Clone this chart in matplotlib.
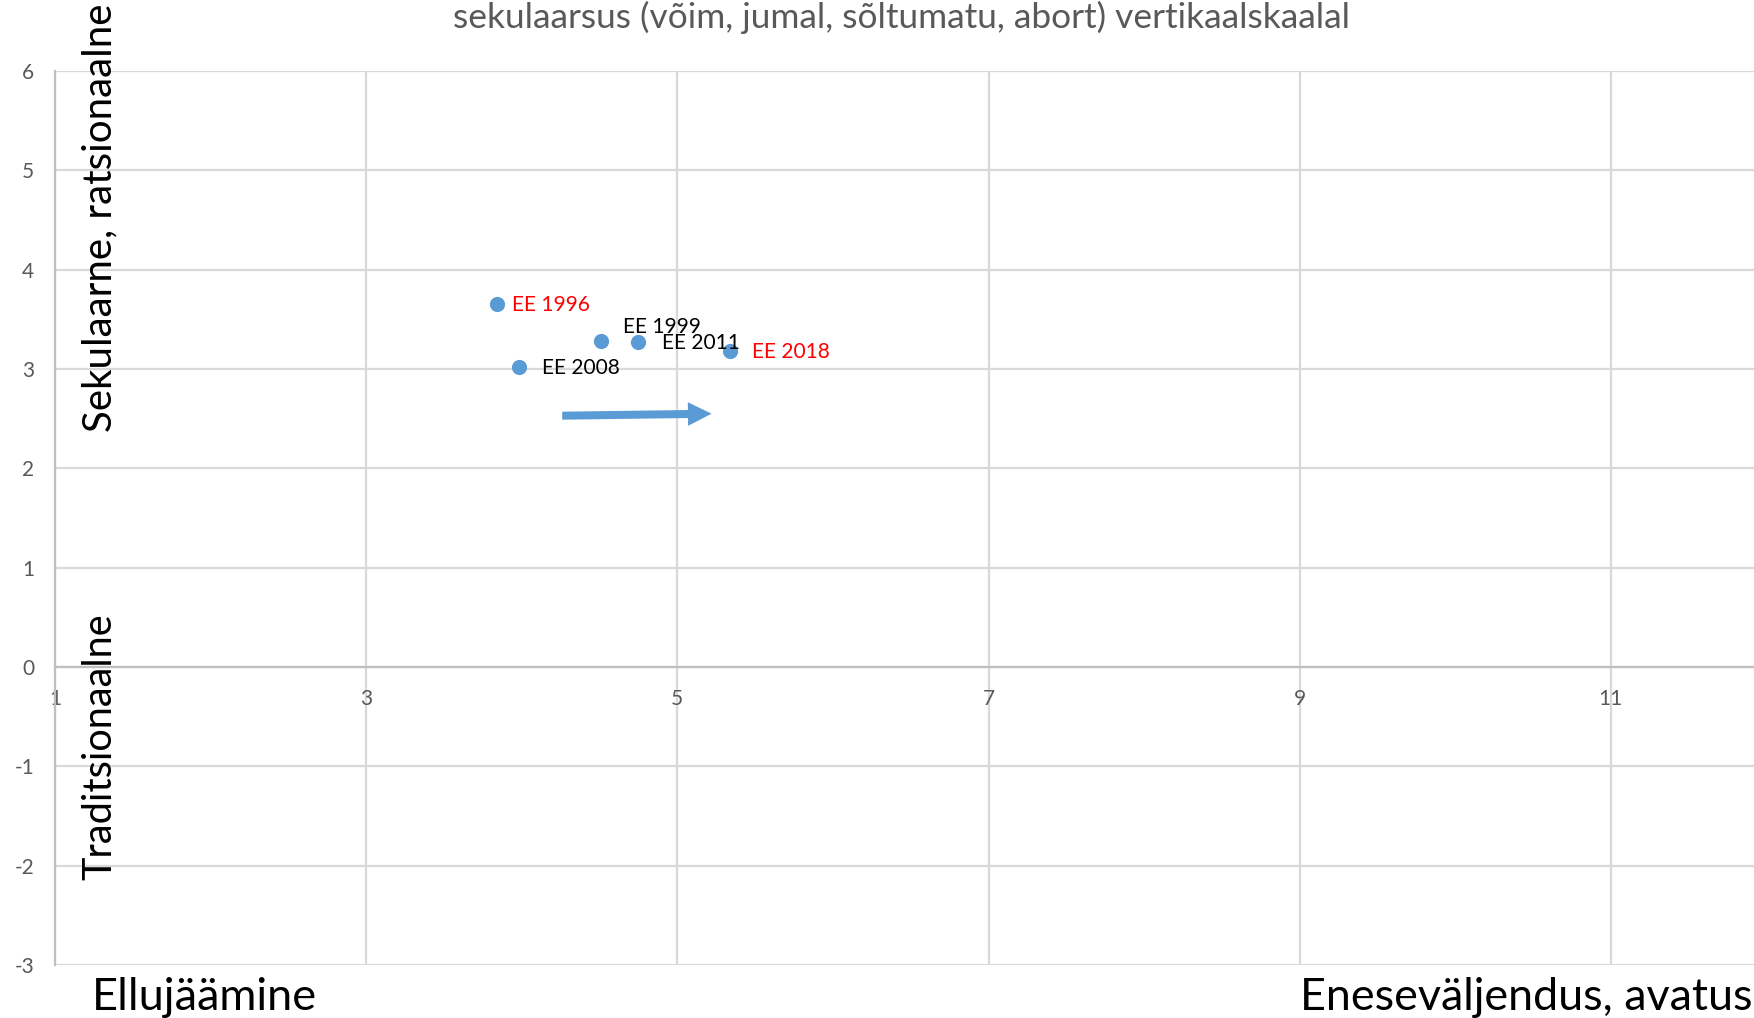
import matplotlib.pyplot as plt

# Estonia on the two value axes
labels = ['EE 1996', 'EE 1999', 'EE 2008', 'EE 2011', 'EE 2018']
x_vals = [3.84, 4.51, 3.98, 4.75, 5.34]
y_vals = [3.65, 3.28, 3.02, 3.27, 3.18]
label_colors = ['#FF0000', 'black', 'black', 'black', '#FF0000']
# label offsets from the point, in pixels
label_dx = [15, 22, 23, 24, 22]
label_dy = [-1, 14, -1, -1, -1]

arrow_start = (4.26, 2.53)
arrow_end = (5.22, 2.55)

x_ticks = [1, 3, 5, 7, 9, 11]
y_ticks = [-3, -2, -1, 0, 1, 2, 3, 4, 5, 6]

title = 'sekulaarsus (võim, jumal, sõltumatu, abort) vertikaalskaalal'
y_top_label = 'Sekulaarne, ratsionaalne'
y_bottom_label = 'Traditsionaalne'
x_left_label = 'Ellujäämine'
x_right_label = 'Eneseväljendus, avatus'

plt.rcParams['font.family'] = ['Lato', 'DejaVu Sans']
plt.rcParams['axes.unicode_minus'] = False

fig = plt.figure(figsize=(17.54, 10.18), dpi=100)
ax = fig.add_axes((55 / 1754, 53 / 1018, 1699 / 1754, 894 / 1018))

ax.set_xlim(1, 11.92)
ax.set_ylim(-3, 6)
ax.set_xticks(x_ticks)
ax.set_yticks(y_ticks)
ax.grid(True, color='#d9d9d9', linewidth=1.6, zorder=0)
ax.set_axisbelow(True)

for side in ['top', 'right']:
    ax.spines[side].set_visible(False)
ax.spines['bottom'].set_position(('data', 0))
ax.spines['bottom'].set_color('#bfbfbf')
ax.spines['bottom'].set_linewidth(1.6)
ax.spines['left'].set_color('#bfbfbf')
ax.spines['left'].set_linewidth(1.6)
ax.tick_params(axis='both', length=0, labelsize=15, labelcolor='#595959')
ax.tick_params(axis='x', pad=16)
ax.tick_params(axis='y', pad=15)

ax.scatter(x_vals, y_vals, s=120, color='#5B9BD5', zorder=3, linewidths=0)
for i, lab in enumerate(labels):
    ax.annotate(lab, (x_vals[i], y_vals[i]),
                xytext=(label_dx[i] * 0.72, label_dy[i] * 0.72), textcoords='offset points',
                ha='left', va='center', fontsize=15, color=label_colors[i], zorder=4)

ax.annotate('', xy=arrow_end, xytext=arrow_start,
            arrowprops=dict(arrowstyle='simple,head_length=1.0,head_width=1.0,tail_width=0.34',
                            mutation_scale=17, color='#5B9BD5', shrinkA=0, shrinkB=0, linewidth=0))

fig.text(0.514, 1 - 17 / 1018, title, ha='center', va='center', fontsize=25.4, color='#595959')
fig.text(0.057, 1 - 218 / 1018, y_top_label, rotation=90, ha='center', va='center', fontsize=29)
fig.text(0.057, 1 - 747 / 1018, y_bottom_label, rotation=90, ha='center', va='center', fontsize=28.6)
fig.text(92 / 1754, 8 / 1018, x_left_label, ha='left', va='baseline', fontsize=32.5)
fig.text(1752 / 1754, 8 / 1018, x_right_label, ha='right', va='baseline', fontsize=32.3)

fig.savefig('out.png', dpi=100)
